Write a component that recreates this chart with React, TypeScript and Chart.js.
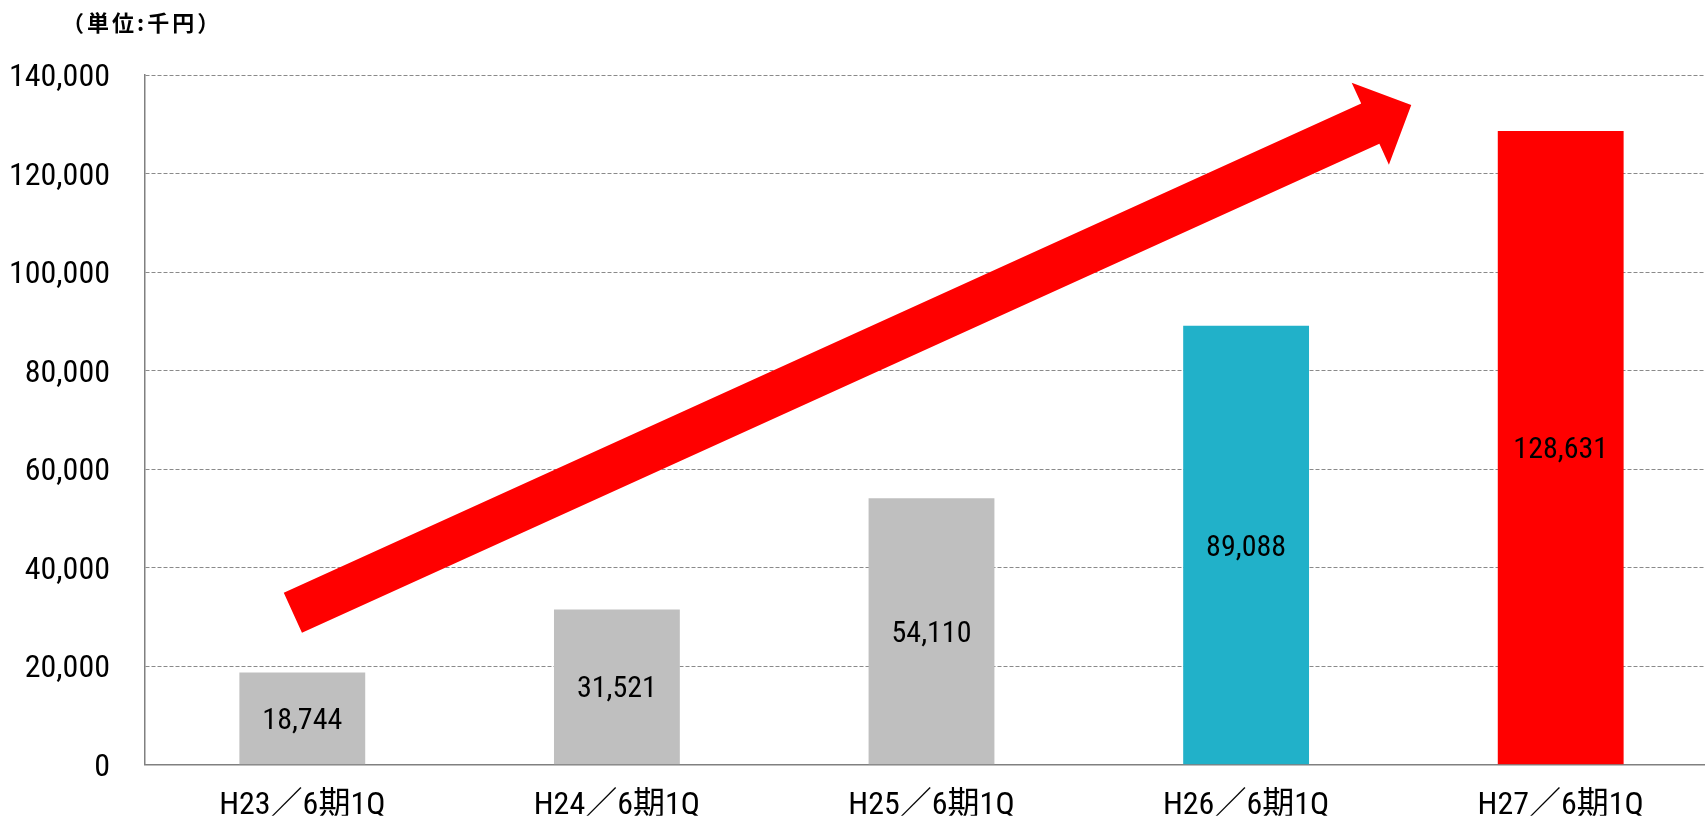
import React, { useEffect, useRef } from "react";
import { Chart, registerables } from "chart.js";

Chart.register(...registerables);

// ---- data ----
const categories = ["H23／6期1Q", "H24／6期1Q", "H25／6期1Q", "H26／6期1Q", "H27／6期1Q"];
const salesValues = [18744, 31521, 54110, 89088, 128631];
const barColors = ["#BFBFBF", "#BFBFBF", "#BFBFBF", "#21B1C9", "#FF0000"];
const yTickMin = 0;
const yTickMax = 140000;
const yTickStep = 20000;
const unitLabel = "（単位:千円）";
// trend arrow anchors, in data units (category index, value)
const arrowStart = { x: -0.03, y: 30860 };
const arrowEnd = { x: 3.525, y: 133900 };

const NUM_FONT = '"Roboto Condensed", "Noto Sans CJK JP", sans-serif';

const unitLabelPlugin = {
  id: "unitLabel",
  afterDraw(chart: any) {
    const { ctx } = chart;
    ctx.save();
    ctx.font = 'bold 22px "Noto Sans CJK JP", sans-serif';
    try {
      (ctx as any).letterSpacing = "3px";
    } catch (e) {}
    ctx.fillStyle = "#000";
    ctx.textAlign = "left";
    ctx.textBaseline = "middle";
    ctx.fillText(unitLabel, 62, 23);
    ctx.restore();
  },
};

const arrowPlugin = {
  id: "trendArrow",
  afterDatasetsDraw(chart: any) {
    const { ctx } = chart;
    const xs = chart.scales.x;
    const ys = chart.scales.y;
    const sx = xs.getPixelForValue(arrowStart.x);
    const sy = ys.getPixelForValue(arrowStart.y);
    const ex = xs.getPixelForValue(arrowEnd.x);
    const ey = ys.getPixelForValue(arrowEnd.y);
    const dx = ex - sx;
    const dy = ey - sy;
    const len = Math.hypot(dx, dy);
    const ux = dx / len;
    const uy = dy / len;
    const nx = -uy;
    const ny = ux;
    const shaft = 44;
    const head = 90;
    const headLen = 45;
    const bx = ex - ux * headLen;
    const by = ey - uy * headLen;
    ctx.save();
    ctx.fillStyle = "#FF0000";
    ctx.beginPath();
    ctx.moveTo(sx + nx * shaft / 2, sy + ny * shaft / 2);
    ctx.lineTo(bx + nx * shaft / 2, by + ny * shaft / 2);
    ctx.lineTo(bx + nx * head / 2, by + ny * head / 2);
    ctx.lineTo(ex, ey);
    ctx.lineTo(bx - nx * head / 2, by - ny * head / 2);
    ctx.lineTo(bx - nx * shaft / 2, by - ny * shaft / 2);
    ctx.lineTo(sx - nx * shaft / 2, sy - ny * shaft / 2);
    ctx.closePath();
    ctx.fill();
    ctx.restore();
  },
};

const barLabelPlugin = {
  id: "barLabels",
  afterDatasetsDraw(chart: any) {
    const { ctx } = chart;
    const meta = chart.getDatasetMeta(0);
    ctx.save();
    ctx.font = `30px ${NUM_FONT}`;
    ctx.fillStyle = "#000000";
    ctx.textAlign = "center";
    ctx.textBaseline = "middle";
    meta.data.forEach((bar: any, i: number) => {
      const v = chart.data.datasets[0].data[i] as number;
      const cy = (bar.y + bar.base) / 2 + 3;
      ctx.fillText(v.toLocaleString("en-US"), bar.x, cy);
    });
    ctx.restore();
  },
};

export default function App() {
  const canvasRef = useRef<HTMLCanvasElement | null>(null);

  useEffect(() => {
    if (!canvasRef.current) return;
    const chart = new Chart(canvasRef.current, {
      type: "bar",
      data: {
        labels: categories,
        datasets: [
          {
            data: salesValues,
            backgroundColor: barColors,
            borderWidth: 0,
            barPercentage: 0.8,
            categoryPercentage: 0.5,
          },
        ],
      },
      options: {
        animation: false,
        responsive: false,
        maintainAspectRatio: false,
        layout: { padding: { left: 0, right: 0, top: 75, bottom: 0 } },
        plugins: {
          legend: { display: false },
          tooltip: { enabled: false },
          title: { display: false },
        },
        scales: {
          x: {
            grid: { display: false, drawTicks: false },
            border: { display: true, color: "#808080", width: 1.5 },
            ticks: {
              color: "#000000",
              padding: 22,
              font: { family: NUM_FONT, size: 32, lineHeight: 1.2 },
              maxRotation: 0,
              autoSkip: false,
            },
            afterFit: (scale: any) => {
              scale.height = 51;
            },
          },
          y: {
            min: yTickMin,
            max: yTickMax,
            grid: { display: true, color: "#8a8a8a", lineWidth: 1, drawTicks: false },
            border: { display: true, color: "#808080", width: 1.5, dash: [4, 2] },
            ticks: {
              stepSize: yTickStep,
              color: "#000000",
              padding: 35,
              labelOffset: 3,
              font: { family: NUM_FONT, size: 32 },
              callback: (v: any) => Number(v).toLocaleString("en-US"),
            },
            afterFit: (scale: any) => {
              scale.width = 145;
            },
          },
        },
      },
      plugins: [arrowPlugin, barLabelPlugin, unitLabelPlugin],
    });
    return () => chart.destroy();
  }, []);

  return (
    <div
      style={{
        position: "fixed",
        left: 0,
        top: 0,
        width: 1705,
        height: 819,
        overflow: "hidden",
        background: "#ffffff",
      }}
    >
      <canvas ref={canvasRef} width={1718} height={819} style={{ display: "block" }} />
    </div>
  );
}
